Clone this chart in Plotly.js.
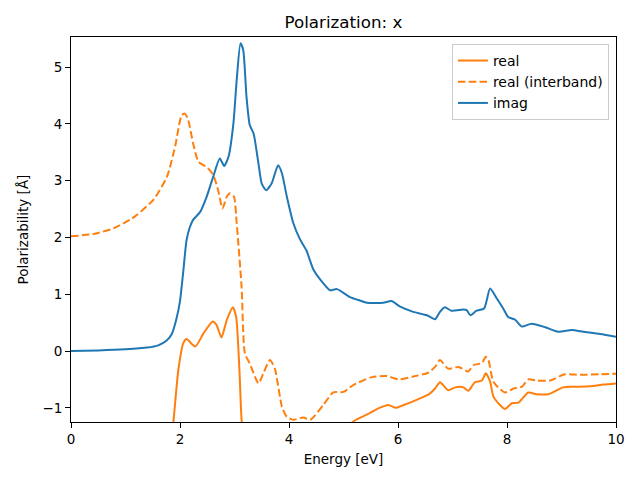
<!DOCTYPE html>
<html>
<head>
<meta charset="utf-8">
<script src="https://cdn.plot.ly/plotly-3.0.1.min.js"></script>
<style>html,body{margin:0;padding:0;background:#fff;}#chart{width:640px;height:480px;}</style>
</head>
<body>
<div id="chart"></div>
<script>
const realX = [0.5,1.0,1.5,1.8,1.88,1.97,2.06,2.12,2.28,2.43,2.60,2.67,2.76,2.86,2.97,3.03,3.09,3.13,3.2,3.5,4.0,4.5,5.0,5.18,5.49,5.64,5.82,5.96,6.16,6.34,6.57,6.68,6.77,6.92,7.05,7.20,7.29,7.41,7.54,7.61,7.69,7.75,7.87,7.96,8.09,8.21,8.39,8.54,8.76,9.03,9.22,9.52,9.77,10.0];
const realY = [-60,-13,-4,-2,-1.24,-0.33,0.14,0.21,0.08,0.31,0.52,0.46,0.24,0.55,0.77,0.60,-0.33,-1.21,-1.8,-2.2,-2.3,-1.9,-1.45,-1.24,-1.09,-1.01,-0.95,-1.0,-0.93,-0.86,-0.76,-0.66,-0.55,-0.69,-0.64,-0.64,-0.70,-0.55,-0.52,-0.39,-0.54,-0.80,-0.95,-1.02,-0.92,-0.91,-0.73,-0.76,-0.76,-0.64,-0.63,-0.62,-0.59,-0.57];

const interX = [0,0.41,0.78,1.08,1.2,1.51,1.76,1.91,2.03,2.09,2.15,2.24,2.34,2.49,2.61,2.70,2.78,2.86,2.92,2.99,3.04,3.13,3.19,3.28,3.44,3.53,3.65,3.74,3.87,3.96,4.08,4.26,4.39,4.63,4.81,5.0,5.18,5.52,5.79,6.01,6.28,6.56,6.68,6.77,6.92,7.11,7.29,7.38,7.54,7.61,7.66,7.75,7.96,8.12,8.27,8.39,8.54,8.79,9.06,9.34,9.71,10.0];
const interY = [2.02,2.06,2.16,2.31,2.39,2.66,3.07,3.6,4.15,4.18,4.07,3.66,3.33,3.24,3.10,2.83,2.51,2.72,2.78,2.72,2.25,1.13,-0.04,-0.22,-0.57,-0.39,-0.16,-0.31,-0.98,-1.16,-1.21,-1.17,-1.21,-0.95,-0.73,-0.72,-0.60,-0.46,-0.44,-0.50,-0.45,-0.38,-0.28,-0.16,-0.31,-0.28,-0.36,-0.25,-0.21,-0.10,-0.16,-0.54,-0.73,-0.66,-0.63,-0.50,-0.52,-0.52,-0.41,-0.42,-0.41,-0.40];

const imagX = [0,0.5,1.0,1.4,1.6,1.75,1.85,1.93,2.0,2.06,2.12,2.18,2.24,2.37,2.49,2.61,2.73,2.81,2.89,2.98,3.04,3.11,3.16,3.22,3.28,3.35,3.44,3.50,3.58,3.68,3.80,3.87,3.96,4.08,4.20,4.32,4.45,4.63,4.75,4.88,5.12,5.30,5.43,5.73,5.88,6.04,6.28,6.53,6.68,6.77,6.86,6.98,7.20,7.26,7.33,7.44,7.58,7.69,7.81,7.93,8.02,8.15,8.27,8.45,8.70,8.94,9.19,9.40,9.71,10.0];
const imagY = [0,0.01,0.03,0.06,0.1,0.18,0.3,0.55,0.88,1.4,1.95,2.18,2.31,2.45,2.72,3.07,3.39,3.26,3.42,4.01,4.77,5.42,5.30,4.48,3.98,3.83,3.30,2.95,2.83,2.95,3.27,3.13,2.72,2.25,1.97,1.77,1.43,1.19,1.07,1.09,0.95,0.89,0.85,0.85,0.88,0.78,0.69,0.63,0.56,0.69,0.77,0.71,0.73,0.72,0.63,0.71,0.75,1.10,0.93,0.75,0.60,0.55,0.43,0.48,0.42,0.34,0.37,0.34,0.30,0.25];

const xTicks = [0,2,4,6,8,10];
const yTicks = [-1,0,1,2,3,4,5];

const orange = '#ff7f0e', blue = '#1f77b4';
const traces = [
  {x: realX, y: realY, name: 'real', mode: 'lines', line: {color: orange, width: 2, shape: 'spline', smoothing: 0.6}},
  {x: interX, y: interY, name: 'real (interband)', mode: 'lines', line: {color: orange, width: 2, dash: '7.5px,3.3px', shape: 'spline', smoothing: 0.6}},
  {x: imagX, y: imagY, name: 'imag', mode: 'lines', line: {color: blue, width: 2, shape: 'spline', smoothing: 0.6}}
];

const axisCommon = {
  showline: true, mirror: true, linecolor: '#000', linewidth: 1,
  ticks: 'outside', ticklen: 5, tickwidth: 1, tickcolor: '#000',
  showgrid: false, zeroline: false,
  tickfont: {family: 'DejaVu Sans', size: 13.5, color: '#000'}
};

const layout = {
  width: 640, height: 480,
  margin: {l: 71, r: 24, t: 37, b: 58},
  paper_bgcolor: '#fff', plot_bgcolor: '#fff',
  font: {family: 'DejaVu Sans', color: '#000'},
  title: {text: 'Polarization: x', font: {family: 'DejaVu Sans', size: 16.7, color: '#000'}, x: 0.5366, xanchor: 'center', y: 0.954, yanchor: 'middle'},
  xaxis: Object.assign({}, axisCommon, {range: [0, 10], tickvals: xTicks, ticktext: xTicks.map(String),
    title: {text: 'Energy [eV]', font: {family: 'DejaVu Sans', size: 13.5, color: '#000'}, standoff: 8}}),
  yaxis: Object.assign({}, axisCommon, {range: [-1.25, 5.53], tickvals: yTicks, ticktext: yTicks.map(v => v < 0 ? '\u2212' + Math.abs(v) : String(v)),
    title: {text: 'Polarizability [Å]', font: {family: 'DejaVu Sans', size: 13.5, color: '#000'}, standoff: 10}}),
  showlegend: true,
  legend: {x: 0.987, xanchor: 'right', y: 0.982, yanchor: 'top', bgcolor: 'rgba(255,255,255,0.8)', bordercolor: '#cccccc', borderwidth: 1,
    font: {family: 'DejaVu Sans', size: 14, color: '#000'}, tracegroupgap: 0}
};

Plotly.newPlot('chart', traces, layout, {displayModeBar: false, staticPlot: true});
</script>
</body>
</html>
